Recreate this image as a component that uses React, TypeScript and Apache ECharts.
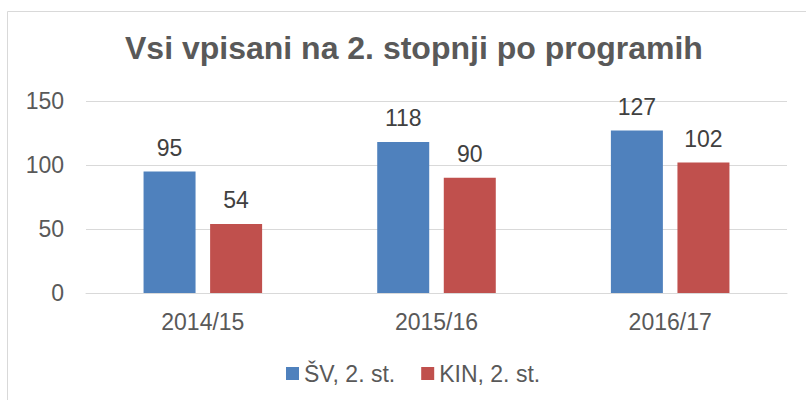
import React, { useEffect, useRef } from "react";
import * as echarts from "echarts";

const categories = ["2014/15", "2015/16", "2016/17"];
const seriesNames = ["ŠV, 2. st.", "KIN, 2. st."];
const svValues = [95, 118, 127];
const kinValues = [54, 90, 102];
const title = "Vsi vpisani na 2. stopnji po programih";

export default function App() {
  const ref = useRef<HTMLDivElement>(null);
  useEffect(() => {
    document.body.style.margin = "0";
    const chart = echarts.init(ref.current!, null, { renderer: "svg" });
    const font = "'Liberation Sans', Arial, sans-serif";
    const labelStyle = { fontFamily: font, fontSize: 23, color: "#595959" };
    chart.setOption({
      animation: false,
      backgroundColor: "#ffffff",
      textStyle: { fontFamily: font },
      title: {
        text: title,
        left: 125,
        top: 32,
        padding: 0,
        textStyle: { fontFamily: font, fontSize: 32, fontWeight: "bold", color: "#595959" },
      },
      graphic: [
        {
          type: "rect",
          shape: { x: 7.5, y: 11.5, width: 900, height: 500 },
          style: { fill: "none", stroke: "#d9d9d9", lineWidth: 1 },
          silent: true,
        },
      ],
      legend: {
        top: 362,
        left: 286,
        padding: 0,
        itemWidth: 13,
        itemHeight: 13,
        itemGap: 26,
        icon: "rect",
        textStyle: { ...labelStyle, padding: [0, 0, 0, 0] },
        data: seriesNames,
      },
      grid: { left: 86, right: 19, top: 101, bottom: 107, containLabel: false },
      xAxis: {
        type: "category",
        data: categories,
        axisLine: { lineStyle: { color: "#d9d9d9" } },
        axisTick: { show: false },
        axisLabel: { ...labelStyle, margin: 17 },
      },
      yAxis: {
        type: "value",
        min: 0,
        max: 150,
        interval: 50,
        axisLine: { show: false },
        axisTick: { show: false },
        splitLine: { lineStyle: { color: "#d9d9d9" } },
        axisLabel: { ...labelStyle, margin: 22 },
      },
      series: [
        {
          name: seriesNames[0],
          type: "bar",
          data: svValues,
          barWidth: 52,
          barGap: "28%",
          itemStyle: { color: "#4F81BD" },
          label: { show: true, position: "top", distance: 12, fontFamily: font, fontSize: 23, color: "#404040" },
        },
        {
          name: seriesNames[1],
          type: "bar",
          data: kinValues,
          barWidth: 52,
          itemStyle: { color: "#C0504D" },
          label: { show: true, position: "top", distance: 12, fontFamily: font, fontSize: 23, color: "#404040" },
        },
      ],
    });
    return () => chart.dispose();
  }, []);
  return <div ref={ref} style={{ width: 806, height: 400 }} />;
}
